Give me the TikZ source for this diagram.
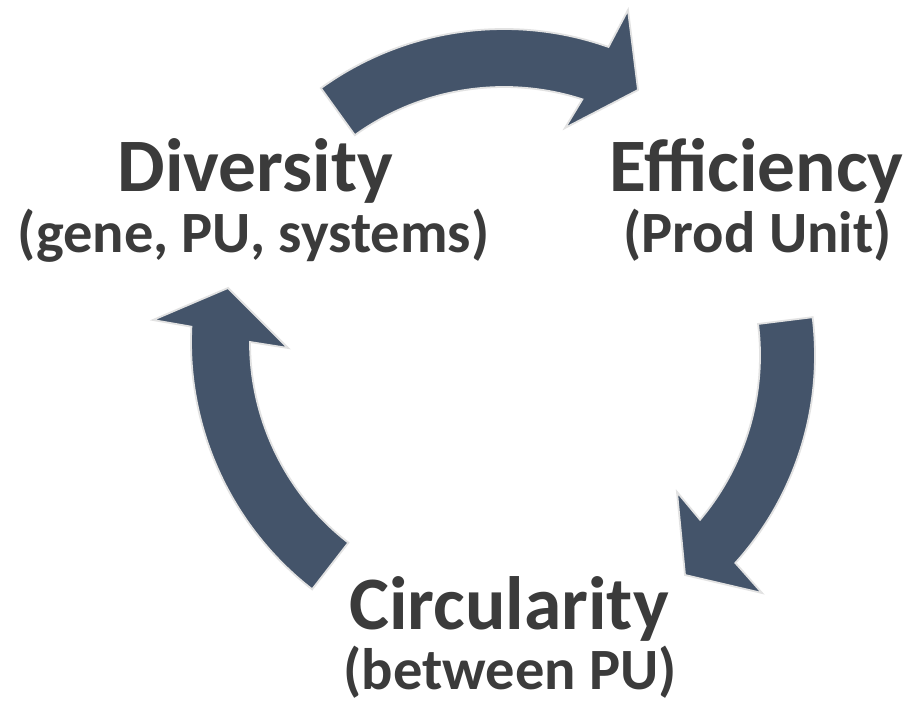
\documentclass[tikz,border=0pt]{standalone}
\usepackage{fontspec}
\setmainfont{Carlito}
\definecolor{cyclefill}{HTML}{44546A}
\definecolor{cycleedge}{HTML}{E2E2E2}
\definecolor{labeltext}{HTML}{3B3B3B}
\begin{document}
\begin{tikzpicture}[x=1pt,y=1pt,
	cyclearrow/.style={fill=cyclefill, draw=cycleedge, line width=1.8pt, line join=miter},
	mainlabel/.style={anchor=base, inner sep=0pt, text=labeltext, font=\fontsize{75.5}{90}\selectfont\bfseries},
	sublabel/.style={anchor=base, inner sep=0pt, text=labeltext, font=\fontsize{58.5}{70}\selectfont\bfseries}]
		\useasboundingbox[fill=white] (0,0) rectangle (910,703);
		%Pfeile um die Mitte
		\begin{scope}[shift={(504,361)}]
		% oben: Diversity -> Efficiency
		\draw[cyclearrow] (125.8:313) arc[start angle=125.8, end angle=70.5, radius=313] -- (124,332) -- (134,252) -- (61,214) -- (72.1:255) arc[start angle=72.1, end angle=125.8, radius=255] -- cycle;
		% links: Circularity -> Diversity
		\draw[cyclearrow] (232.2:313) arc[start angle=232.2, end angle=177.2, radius=313] -- (-351,22) -- (-276,54) -- (-216,-6) -- (180:254) arc[start angle=180, end angle=232.2, radius=254] -- cycle;
		\end{scope}
		\begin{scope}[shift={(505,347.5)}]
		% rechts: Efficiency -> Circularity
		\draw[cyclearrow] (7.1:310) arc[start angle=7.1, end angle=-42, radius=310] -- (257,-237.5) -- (180,-219.5) -- (172,-136.5) -- (-40.1:255) arc[start angle=-40.1, end angle=7.1, radius=255] -- cycle;
		\end{scope}
		%Beschriftung
		\node at (255.5,511) [mainlabel] (div) {Diversity};
		\node at (253.5,450) [sublabel] (divsub) {(gene, PU, systems)};
		\node at (756.5,511) [mainlabel] (eff) {Efficiency};
		\node at (757.5,450) [sublabel] (effsub) {(Prod Unit)};
		\node at (509,73) [mainlabel] (circ) {Circularity};
		\node at (510,13) [sublabel] (circsub) {(between PU)};
		\end{tikzpicture}
\end{document}
